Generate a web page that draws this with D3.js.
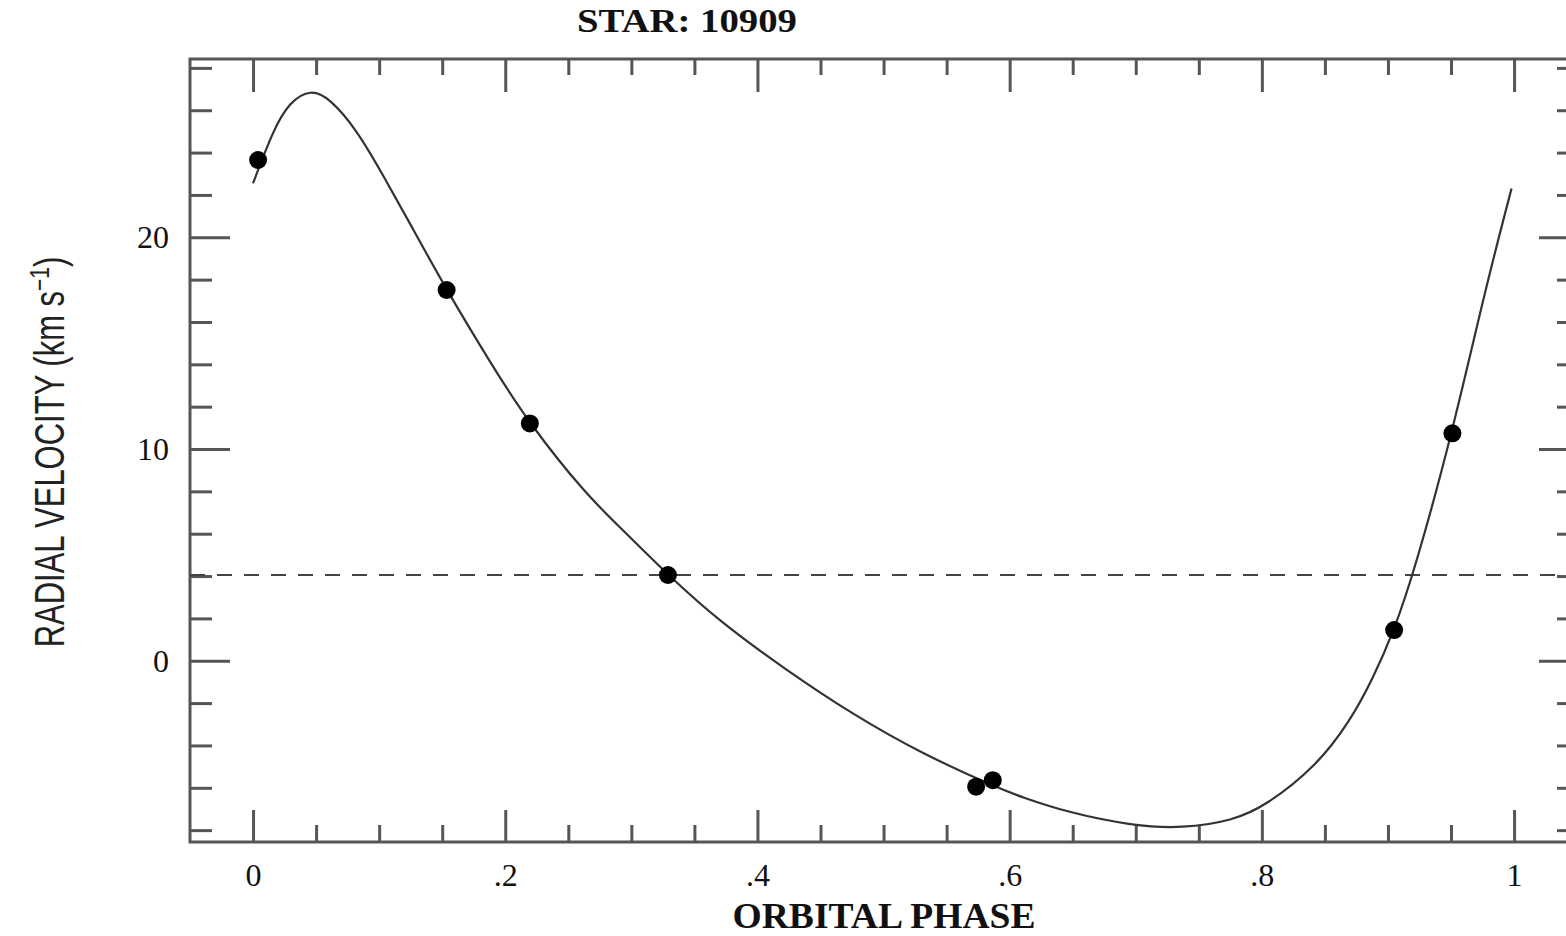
<!DOCTYPE html>
<html>
<head>
<meta charset="utf-8">
<script src="https://cdn.jsdelivr.net/npm/d3@7"></script>
<style>
  html, body { margin: 0; padding: 0; background: #fff; }
  svg { display: block; }
</style>
</head>
<body>
<svg id="chart" width="1566" height="936"></svg>
<script>
// Observed radial velocities folded on orbital phase
const obsPhase = [0.004, 0.1535, 0.2195, 0.329, 0.5734, 0.5866, 0.9049, 0.9511];
const obsVelocity = [23.65, 17.51, 11.21, 4.05, -5.95, -5.64, 1.45, 10.74];

// Orbital solution curve, sampled in phase
const fitPhase = [0.000, 0.016, 0.029, 0.046, 0.061, 0.082, 0.103, 0.124, 0.153, 0.190,
                  0.219, 0.264, 0.292, 0.329, 0.370, 0.423, 0.476, 0.529, 0.592,
                  0.608, 0.645, 0.698, 0.737, 0.777, 0.803, 0.843, 0.870, 0.888, 0.905,
                  0.921, 0.951, 0.978, 0.998];
const fitVelocity = [22.55, 25.07, 26.40, 27.00, 26.55, 25.10, 22.95, 20.70, 17.55, 13.90,
                     11.21, 7.85, 6.25, 4.05, 1.85, -0.45, -2.55, -4.35, -6.05,
                     -6.40, -7.15, -7.80, -7.92, -7.55, -6.85, -5.00, -2.85, -0.85, 1.45,
                     4.25, 10.74, 17.75, 22.30];

// Systemic velocity
const gamma = 4.05;

const xMajorTicks = [0, 0.2, 0.4, 0.6, 0.8, 1];
const xTickLabels = ["0", ".2", ".4", ".6", ".8", "1"];
const yMajorTicks = [0, 10, 20];
const yTickLabels = ["0", "10", "20"];

const title = "STAR: 10909";
const xTitle = "ORBITAL PHASE";

const svg = d3.select("#chart");
const plotLeft = 190, plotRight = 1579, plotTop = 59, plotBottom = 842;

const x = d3.scaleLinear().domain([-0.05, 1.0515]).range([plotLeft, plotRight]);
const y = d3.scaleLinear().domain([-8.56, 28.42]).range([plotBottom, plotTop]);

const frameColor = "#555";
const serif = "'Liberation Serif', 'Times New Roman', serif";

// Frame
svg.append("rect")
  .attr("x", plotLeft).attr("y", plotTop)
  .attr("width", plotRight - plotLeft).attr("height", plotBottom - plotTop)
  .attr("fill", "none").attr("stroke", frameColor).attr("stroke-width", 3);

// Tick sets
const xMinor = d3.range(0, 21).map(i => i * 0.05).filter(v => !xMajorTicks.some(m => Math.abs(m - v) < 1e-9));
const yMinor = d3.range(-8, 29, 2).filter(v => !yMajorTicks.includes(v));

const xAxisBottomMajor = d3.axisBottom(x).tickValues(xMajorTicks).tickSizeInner(-32).tickSizeOuter(0)
  .tickFormat((d, i) => xTickLabels[i]).tickPadding(21);
const xAxisBottomMinor = d3.axisBottom(x).tickValues(xMinor).tickSizeInner(-17).tickSizeOuter(0).tickFormat("");
const xAxisTopMajor = d3.axisTop(x).tickValues(xMajorTicks).tickSizeInner(-33).tickSizeOuter(0).tickFormat("");
const xAxisTopMinor = d3.axisTop(x).tickValues(xMinor).tickSizeInner(-16).tickSizeOuter(0).tickFormat("");

const yAxisLeftMajor = d3.axisLeft(y).tickValues(yMajorTicks).tickSizeInner(-40).tickSizeOuter(0)
  .tickFormat((d, i) => yTickLabels[i]).tickPadding(21);
const yAxisLeftMinor = d3.axisLeft(y).tickValues(yMinor).tickSizeInner(-22).tickSizeOuter(0).tickFormat("");
const yAxisRightMajor = d3.axisRight(y).tickValues(yMajorTicks).tickSizeInner(-40).tickSizeOuter(0).tickFormat("");
const yAxisRightMinor = d3.axisRight(y).tickValues(yMinor).tickSizeInner(-22).tickSizeOuter(0).tickFormat("");

function styleAxis(g) {
  g.select(".domain").remove();
  g.selectAll(".tick line").attr("stroke", frameColor).attr("stroke-width", 3);
  g.selectAll(".tick text").attr("fill", "#111").style("font-family", serif).style("font-size", "32px");
}

svg.append("g").attr("transform", `translate(0,${plotBottom})`).call(xAxisBottomMajor).call(styleAxis);
svg.append("g").attr("transform", `translate(0,${plotBottom})`).call(xAxisBottomMinor).call(styleAxis);
svg.append("g").attr("transform", `translate(0,${plotTop})`).call(xAxisTopMajor).call(styleAxis);
svg.append("g").attr("transform", `translate(0,${plotTop})`).call(xAxisTopMinor).call(styleAxis);
svg.append("g").attr("transform", `translate(${plotLeft},0)`).call(yAxisLeftMajor).call(styleAxis);
svg.append("g").attr("transform", `translate(${plotLeft},0)`).call(yAxisLeftMinor).call(styleAxis);
svg.append("g").attr("transform", `translate(${plotRight},0)`).call(yAxisRightMajor).call(styleAxis);
svg.append("g").attr("transform", `translate(${plotRight},0)`).call(yAxisRightMinor).call(styleAxis);

// Systemic velocity line
svg.append("line")
  .attr("x1", plotLeft).attr("x2", plotRight)
  .attr("y1", y(gamma)).attr("y2", y(gamma))
  .attr("stroke", "#444").attr("stroke-width", 2.2)
  .attr("stroke-dasharray", "15,12");

// Velocity curve
const fit = fitPhase.map((p, i) => [p, fitVelocity[i]]);
const line = d3.line().x(d => x(d[0])).y(d => y(d[1])).curve(d3.curveBasis);
svg.append("path")
  .datum(fit)
  .attr("d", line)
  .attr("fill", "none").attr("stroke", "#333").attr("stroke-width", 2.2);

// Observations
svg.append("g").selectAll("circle")
  .data(obsPhase.map((p, i) => [p, obsVelocity[i]]))
  .join("circle")
  .attr("cx", d => x(d[0])).attr("cy", d => y(d[1]))
  .attr("r", 9).attr("fill", "#000");

// Title
svg.append("text")
  .attr("x", 687).attr("y", 32)
  .attr("text-anchor", "middle")
  .attr("textLength", 220).attr("lengthAdjust", "spacingAndGlyphs")
  .style("font-family", serif).style("font-size", "33px").style("font-weight", "bold")
  .attr("fill", "#111")
  .text(title);

// X axis title
svg.append("text")
  .attr("x", 884).attr("y", 928)
  .attr("text-anchor", "middle")
  .attr("textLength", 303).attr("lengthAdjust", "spacingAndGlyphs")
  .style("font-family", serif).style("font-size", "36px").style("font-weight", "bold")
  .attr("fill", "#111")
  .text(xTitle);

// Y axis title
const yt = svg.append("text")
  .attr("transform", "translate(64,452) rotate(-90) scale(1,1.35)")
  .attr("text-anchor", "middle")
  .style("font-family", "'Liberation Sans', Arial, sans-serif").style("font-size", "31px")
  .attr("fill", "#222");
yt.append("tspan").text("RADIAL VELOCITY (km s");
yt.append("tspan").attr("dy", -11).style("font-size", "21px").text("−1");
yt.append("tspan").attr("dy", 11).text(")");
</script>
</body>
</html>
